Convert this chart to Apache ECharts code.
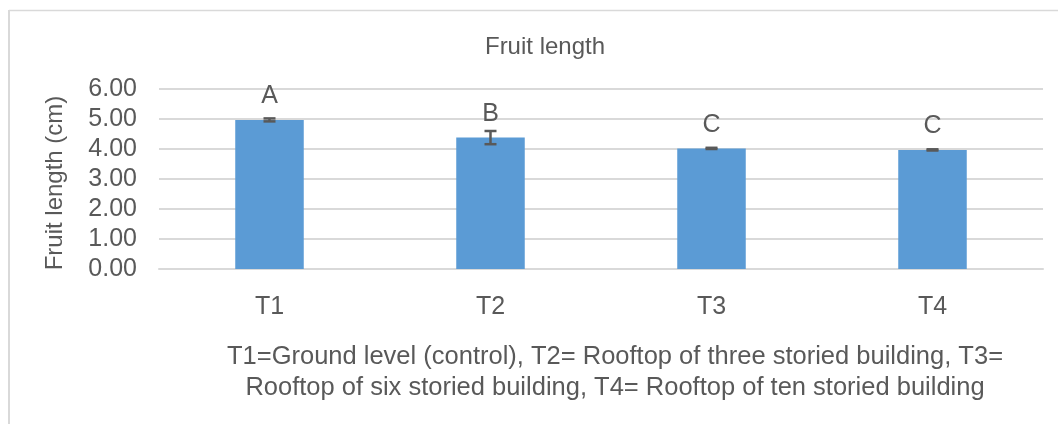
<!DOCTYPE html>
<html>
<head>
<meta charset="utf-8">
<script src="https://cdn.jsdelivr.net/npm/echarts@6/dist/echarts.min.js"></script>
<style>
  html, body { margin: 0; padding: 0; background: #fff; }
  #chart { width: 1058px; height: 424px; }
</style>
</head>
<body>
<div id="chart"></div>
<script>
// 处理 (treatments)
const categories = ["T1", "T2", "T3", "T4"];
// fruit length mean (cm)
const meanValues = [4.97, 4.38, 4.02, 3.97];
// standard error
const errValues = [0.05, 0.22, 0.02, 0.02];
// significance letters
const letters = ["A", "B", "C", "C"];
const yTicks = { min: 0, max: 6, interval: 1 };

const textColor = "#595959";
const fontFamily = "Liberation Sans, Arial, sans-serif";

const chart = echarts.init(document.getElementById("chart"));

const errorData = categories.map((c, i) => [i, meanValues[i] - errValues[i], meanValues[i] + errValues[i]]);

const option = {
  animation: false,
  backgroundColor: "#fff",
  textStyle: { fontFamily: fontFamily },
  title: [
    {
      text: "Fruit length",
      left: 540,
      top: 30,
      textAlign: "center",
      textStyle: { fontSize: 24, fontWeight: "normal", color: textColor, fontFamily: fontFamily },
    },
    {
      text: "T1=Ground level (control), T2= Rooftop of three storied building, T3=\nRooftop of six storied building, T4= Rooftop of ten storied building",
      left: 610,
      top: 336,
      textAlign: "center",
      textStyle: {
        fontSize: 25.5,
        fontWeight: "normal",
        color: textColor,
        fontFamily: fontFamily,
        lineHeight: 31,
        align: "center",
      },
    },
  ],
  grid: { left: 159, right: 15, top: 89, bottom: 155 },
  xAxis: {
    type: "category",
    data: categories,
    axisLine: { show: true, lineStyle: { color: "#d9d9d9", width: 2 } },
    axisTick: { show: false },
    axisLabel: { color: textColor, fontSize: 25, margin: 26 },
  },
  yAxis: {
    type: "value",
    min: yTicks.min,
    max: yTicks.max,
    interval: yTicks.interval,
    name: "Fruit length (cm)",
    nameLocation: "middle",
    nameGap: 92,
    nameTextStyle: { color: textColor, fontSize: 24, padding: [0, 8, 0, 0] },
    axisLine: { show: false },
    axisTick: { show: false },
    axisLabel: {
      color: textColor,
      fontSize: 25,
      margin: 22,
      formatter: (v) => v.toFixed(2),
    },
    splitLine: { lineStyle: { color: "#d9d9d9", width: 2 } },
  },
  series: [
    {
      type: "bar",
      data: meanValues,
      barWidth: "31%",
      itemStyle: { color: "#5b9bd5" },
      label: {
        show: true,
        position: "top",
        distance: 11,
        color: textColor,
        fontSize: 25,
        formatter: (p) => letters[p.dataIndex],
      },
    },
    {
      type: "custom",
      data: errorData,
      z: 10,
      renderItem: function (params, api) {
        const x = api.value(0);
        const lo = api.coord([x, api.value(1)]);
        const hi = api.coord([x, api.value(2)]);
        const half = 6;
        const style = { stroke: "#595959", lineWidth: 2.5 };
        return {
          type: "group",
          children: [
            { type: "line", shape: { x1: lo[0], y1: lo[1], x2: hi[0], y2: hi[1] }, style: style },
            { type: "line", shape: { x1: lo[0] - half, y1: lo[1], x2: lo[0] + half, y2: lo[1] }, style: style },
            { type: "line", shape: { x1: hi[0] - half, y1: hi[1], x2: hi[0] + half, y2: hi[1] }, style: style },
          ],
        };
      },
    },
  ],
  graphic: [
    { type: "line", shape: { x1: 9, y1: 10.5, x2: 1058, y2: 10.5 }, style: { stroke: "#d9d9d9", lineWidth: 1.5 } },
    { type: "line", shape: { x1: 9, y1: 10, x2: 9, y2: 424 }, style: { stroke: "#d9d9d9", lineWidth: 2 } },
  ],
};

chart.setOption(option);
</script>
</body>
</html>
